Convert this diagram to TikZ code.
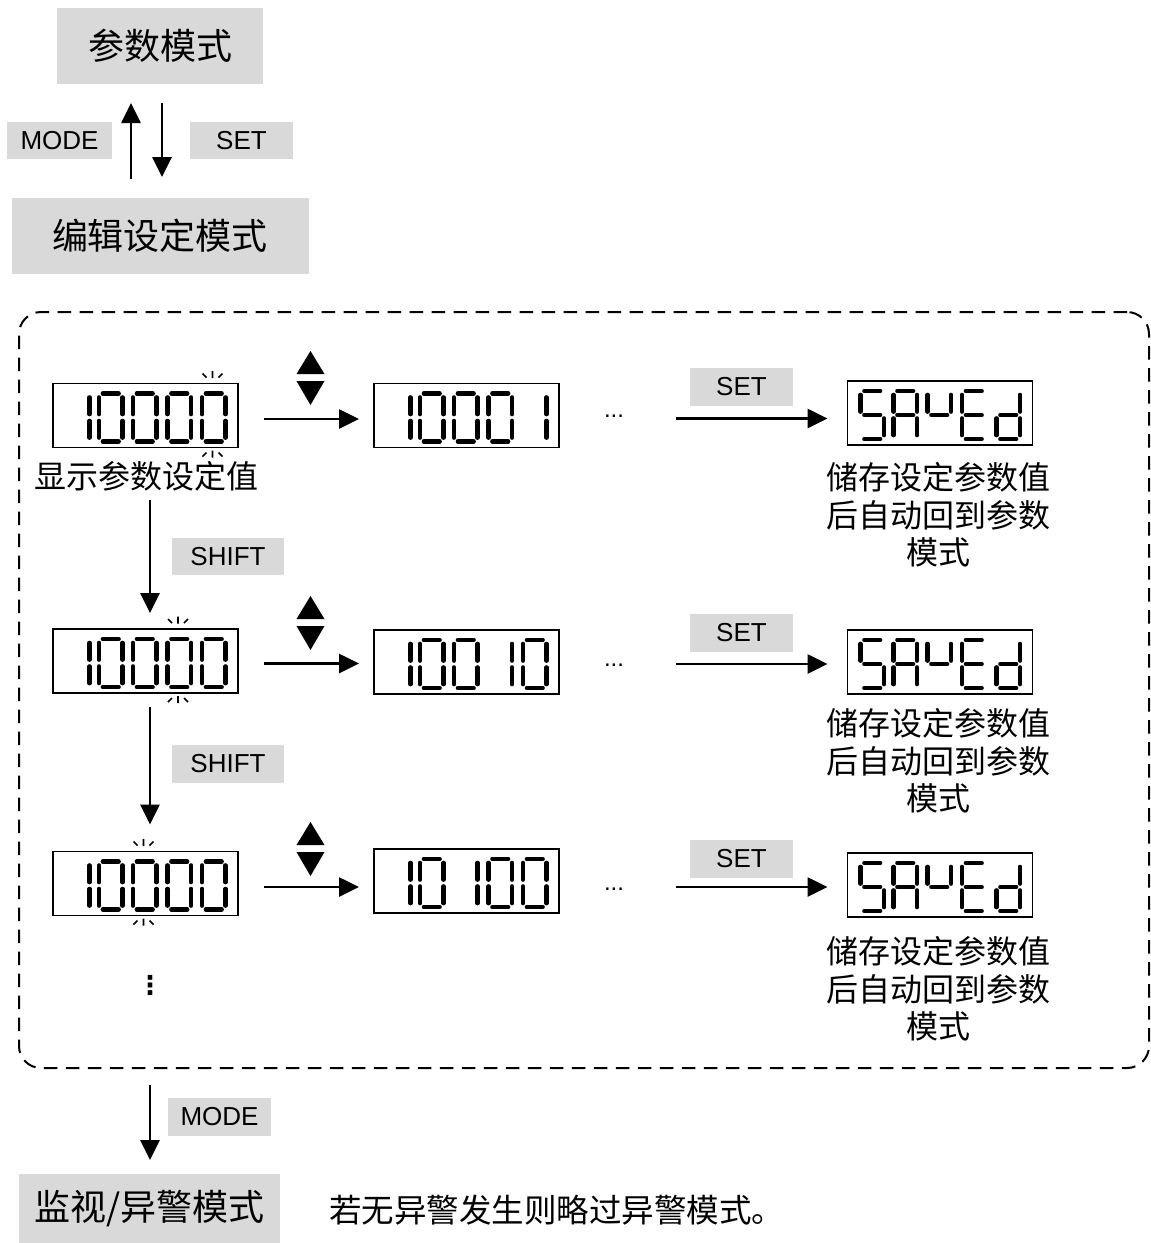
\documentclass[tikz,border=0pt]{standalone}
\usepackage{fontspec}
\setmainfont{Liberation Sans}
\newfontfamily\cjk{Noto Sans CJK SC}
\newfontfamily\djv{DejaVu Sans}
\usetikzlibrary{arrows.meta,calc}
\definecolor{lgray}{RGB}{217,217,217}
\newcommand\lcdchars[6]{%
  \pic at ($(#1.north west)+(13,10)$) {#2};
  \pic at ($(#1.north west)+(46,10)$) {#3};
  \pic at ($(#1.north west)+(80,10)$) {#4};
  \pic at ($(#1.north west)+(114.5,10)$) {#5};
  \pic at ($(#1.north west)+(149,10)$) {#6};}
\newcommand\blinkat[2]{%
  \draw[blk] ($(#1.north west)+(#2,-12.5)$) -- ++(0,7)
    ($(#1.north west)+(#2-10,-10)$) -- ++(4,4)
    ($(#1.north west)+(#2+6,-6)$) -- ++(4,-4)
    ($(#1.south west)+(#2,3)$) -- ++(0,7)
    ($(#1.south west)+(#2-10,9)$) -- ++(4,-4)
    ($(#1.south west)+(#2+6,5)$) -- ++(4,4);}
\begin{document}
\begin{tikzpicture}[x=1pt,y=-1pt,
  every node/.style={inner sep=0pt, outer sep=0pt},
  gbox/.style={fill=lgray, font=\cjk\fontsize{36}{42}\selectfont},
  lab/.style={fill=lgray, minimum height=38pt, font=\fontsize{26}{30}\selectfont},
  lcd/.style={draw, line width=1.5pt, minimum width=185pt, minimum height=64pt},
  arr/.style={line width=2.7pt, -{Triangle[length=20pt,width=19pt]}},
  segl/.style={line width=4.7pt, line cap=round},
  blk/.style={line width=1.6pt},
  note/.style={align=center, font=\cjk\fontsize{32}{37.5}\selectfont},
  pics/dzero/.style={code={\draw[segl] (4,0)--(19.5,0) (23.5,4)--(23.5,20.5) (23.5,27.5)--(23.5,44) (4,48)--(19.5,48) (0,27.5)--(0,44) (0,4)--(0,20.5);}},
  pics/done/.style={code={\draw[segl] (23.5,4)--(23.5,20.5) (23.5,27.5)--(23.5,44);}},
  pics/dS/.style={code={\draw[segl] (4,0)--(19.5,0) (0,4)--(0,20.5) (4,24)--(19.5,24) (23.5,27.5)--(23.5,44) (4,48)--(19.5,48);}},
  pics/dA/.style={code={\draw[segl] (4,0)--(19.5,0) (23.5,4)--(23.5,20.5) (23.5,27.5)--(23.5,44) (0,27.5)--(0,44) (0,4)--(0,20.5) (4,24)--(19.5,24);}},
  pics/dV/.style={code={\draw[segl] (0,4)--(0,20.5) (4,24)--(19.5,24) (23.5,4)--(23.5,20.5);}},
  pics/dE/.style={code={\draw[segl] (4,0)--(19.5,0) (0,4)--(0,20.5) (4,24)--(19.5,24) (0,27.5)--(0,44) (4,48)--(19.5,48);}},
  pics/dd/.style={code={\draw[segl] (23.5,4)--(23.5,20.5) (23.5,27.5)--(23.5,44) (4,24)--(19.5,24) (0,27.5)--(0,44) (4,48)--(19.5,48);}},
  pics/updown/.style={code={\fill (-14,-4)--(14,-4)--(0,-27)--cycle; \fill (-14,3)--(14,3)--(0,27)--cycle;}}
]
\useasboundingbox (0,0) rectangle (1151,1243);

% dashed container
\node[draw, dash pattern=on 13.5pt off 8.5pt, line width=2pt, rounded corners=22pt,
      minimum width=1130pt, minimum height=756pt] (area) at (584,690) {};

% top section
\node[gbox, minimum width=206pt, minimum height=76pt] (p1) at (160,46) {参数模式};
\node[gbox, minimum width=297pt, minimum height=76pt] (p2) at (160,236) {编辑设定模式};
\node[lab, minimum width=105pt, minimum height=37pt] (m1) at (59.5,140.5) {MODE};
\node[lab, minimum width=103pt, minimum height=37pt] (s1) at (241.5,140.5) {SET};
\draw[arr] ($(p2.north)+(-29,-19)$) -- ($(p1.south)+(-29,19)$);
\draw[arr] ($(p1.south)+(2,19)$) -- ($(p2.north)+(2,-21)$);

% row 1
\node[lcd] (d11) at (145.5,415.5) {};
\node[lcd] (d12) at (466.5,415.5) {};
\node[lcd] (d13) at (940,413) {};
\lcdchars{d11}{done}{dzero}{dzero}{dzero}{dzero}
\lcdchars{d12}{done}{dzero}{dzero}{dzero}{done}
\lcdchars{d13}{dS}{dA}{dV}{dE}{dd}
\blinkat{d11}{159.5}
\node[font=\cjk\fontsize{32}{38}\selectfont] (l1) at (146.5,476) {显示参数设定值};
\pic at (310.5,378) {updown};
\draw[arr] ($(d11.east)+(26,3.5)$) -- ($(d11.east -| d12.west)+(-15,3.5)$);
\node[font=\fontsize{24}{28}\selectfont] (e1) at (614,416) {...};
\node[lab, minimum width=103pt] (t1) at (741.5,387) {SET};
\draw[arr] ($(e1.east)+(52,2.5)$) -- ($(e1.east -| d13.west)+(-20,2.5)$);
\node[note] (n1) at (938,515) {储存设定参数值\\后自动回到参数\\模式};

% row 2
\node[lab, minimum width=112pt, minimum height=37pt] (sh1) at (228,556.5) {SHIFT};
\node[lcd] (d21) at (145.5,661) {};
\node[lcd] (d22) at (466.5,662) {};
\node[lcd] (d23) at (940,662) {};
\lcdchars{d21}{done}{dzero}{dzero}{dzero}{dzero}
\lcdchars{d22}{done}{dzero}{dzero}{done}{dzero}
\lcdchars{d23}{dS}{dA}{dV}{dE}{dd}
\blinkat{d21}{125}
\draw[arr] ($(l1.south)+(3.5,9)$) -- ($(d21.north)+(4.5,-16)$);
\pic at (310.5,623) {updown};
\draw[arr] ($(d21.east)+(26,2.5)$) -- ($(d21.east -| d22.west)+(-15,2.5)$);
\node[font=\fontsize{24}{28}\selectfont] (e2) at (614,665) {...};
\node[lab, minimum width=103pt] (t2) at (741.5,633) {SET};
\draw[arr] ($(e2.east)+(52,-1)$) -- ($(e2.east -| d23.west)+(-20,-1)$);
\node[note] (n2) at (938,761) {储存设定参数值\\后自动回到参数\\模式};

% row 3
\node[lab, minimum width=112pt] (sh2) at (228,764) {SHIFT};
\node[lcd] (d31) at (145.5,883.5) {};
\node[lcd] (d32) at (466.5,881) {};
\node[lcd] (d33) at (940,885) {};
\lcdchars{d31}{done}{dzero}{dzero}{dzero}{dzero}
\lcdchars{d32}{done}{dzero}{done}{dzero}{dzero}
\lcdchars{d33}{dS}{dA}{dV}{dE}{dd}
\blinkat{d31}{90.5}
\draw[arr] ($(d21.south)+(4.5,14)$) -- ($(d31.north)+(4.5,-27)$);
\pic at (310.5,849) {updown};
\draw[arr] ($(d31.east)+(26,3.5)$) -- ($(d31.east -| d32.west)+(-15,3.5)$);
\node[font=\fontsize{24}{28}\selectfont] (e3) at (614,889) {...};
\node[lab, minimum width=103pt] (t3) at (741.5,859) {SET};
\draw[arr] ($(e3.east)+(52,-2)$) -- ($(e3.east -| d33.west)+(-20,-2)$);
\node[note] (n3) at (938,989) {储存设定参数值\\后自动回到参数\\模式};
\node[font=\djv\bfseries\fontsize{26}{30}\selectfont] (vd) at (150,985) {⋮};

% bottom
\node[gbox, minimum width=261pt, minimum height=69pt] (p3) at (149.5,1208.5) {监视/异警模式};
\node[lab, minimum width=103pt] (m2) at (219.5,1117) {MODE};
\draw[arr] ($(area.south west)+(131,17)$) -- ($(p3.north)+(0.5,-14)$);
\node[font=\cjk\fontsize{32.5}{38}\selectfont] (n4) at (556.5,1210) {若无异警发生则略过异警模式。};
\end{tikzpicture}
\end{document}
